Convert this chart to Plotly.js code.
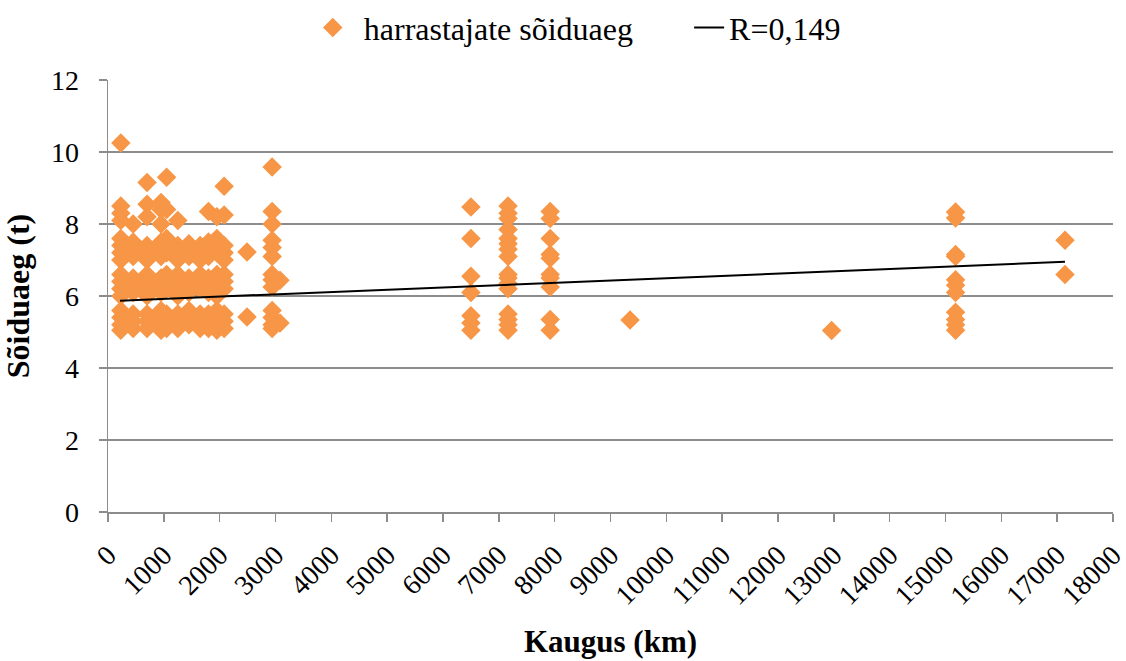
<!DOCTYPE html>
<html>
<head>
<meta charset="utf-8">
<script src="https://cdn.plot.ly/plotly-3.0.1.min.js"></script>
<style>html,body{margin:0;padding:0;background:#fff;}#chart{width:1126px;height:661px;}</style>
</head>
<body>
<div id="chart"></div>
<script>
// Distance columns (km) and the travel times (h) observed at each
var distanceKm = [230, 450, 700, 950, 1050, 1250, 1450, 1650, 1800, 1950, 2080, 2490, 2940, 3080, 6500, 7165, 7920, 9350, 12960, 15180, 17140];
var timeH = [
  [10.25, 8.5, 8.3, 8.1, 7.6, 7.4, 7.2, 7.0, 6.6, 6.4, 6.2, 6.0, 5.6, 5.4, 5.2, 5.05],
  [8.0, 7.5, 7.3, 7.1, 6.5, 6.3, 6.1, 5.5, 5.3, 5.1],
  [9.15, 8.55, 8.2, 7.4, 7.2, 7.0, 6.6, 6.4, 6.2, 6.0, 5.5, 5.3, 5.1],
  [8.6, 8.4, 8.0, 7.5, 7.3, 7.1, 6.5, 6.3, 6.1, 5.6, 5.4, 5.2, 5.05],
  [9.3, 8.4, 7.6, 7.4, 7.2, 6.6, 6.4, 6.2, 5.5, 5.3, 5.1],
  [8.1, 7.4, 7.2, 7.0, 6.6, 6.4, 6.2, 6.0, 5.5, 5.3, 5.1],
  [7.45, 7.3, 7.1, 6.5, 6.3, 6.1, 5.6, 5.4, 5.2],
  [7.4, 7.2, 7.0, 6.6, 6.4, 6.2, 5.5, 5.3, 5.1],
  [8.35, 7.5, 7.3, 7.1, 6.5, 6.3, 6.1, 5.5, 5.3, 5.1],
  [8.2, 7.6, 7.2, 6.6, 6.4, 6.2, 6.0, 5.6, 5.4, 5.2, 5.05],
  [9.05, 8.25, 7.4, 7.2, 7.0, 6.6, 6.4, 6.2, 5.5, 5.3, 5.1],
  [7.22, 5.42],
  [9.58, 8.35, 8.0, 7.55, 7.35, 7.1, 6.6, 6.45, 6.25, 5.6, 5.4, 5.2, 5.1],
  [6.44, 5.25],
  [8.47, 7.6, 6.55, 6.1, 5.45, 5.25, 5.05],
  [8.5, 8.3, 8.15, 7.85, 7.6, 7.45, 7.3, 7.1, 6.6, 6.5, 6.35, 6.2, 5.5, 5.35, 5.2, 5.05],
  [8.35, 8.15, 7.6, 7.15, 7.05, 6.6, 6.5, 6.25, 5.35, 5.05],
  [5.33],
  [5.04],
  [8.33, 8.17, 7.15, 7.1, 6.45, 6.3, 6.1, 5.55, 5.35, 5.2, 5.05],
  [7.55, 6.6]
];
// Trend line end points
var trendX = [215, 17140];
var trendY = [5.87, 6.95];
var xTicks = [0,1000,2000,3000,4000,5000,6000,7000,8000,9000,10000,11000,12000,13000,14000,15000,16000,17000,18000];
var yTicks = [0,2,4,6,8,10,12];

var px = [], py = [];
distanceKm.forEach(function(d, i){ timeH[i].forEach(function(t){ px.push(d); py.push(t); }); });

var font = "'Liberation Serif', 'Times New Roman', serif";
var data = [
  {x: px, y: py, type: 'scatter', mode: 'markers', name: 'harrastajate sõiduaeg', legend: 'legend',
   marker: {symbol: 'diamond', size: 15, color: '#F79646', line: {width: 0}}},
  {x: trendX, y: trendY, type: 'scatter', mode: 'lines', name: 'R=0,149', legend: 'legend2',
   line: {color: '#000000', width: 2}}
];
var layout = {
  width: 1126, height: 661,
  margin: {l: 108, r: 13, t: 80, b: 149},
  paper_bgcolor: '#fff', plot_bgcolor: '#fff',
  font: {family: font, size: 28, color: '#000'},
  showlegend: true,
  legend: {orientation: 'h', x: 0.268, xanchor: 'left', xref: 'container', y: 0.958, yanchor: 'middle',
           yref: 'container', itemwidth: 52, font: {family: font, size: 32}, bgcolor: 'rgba(0,0,0,0)'},
  legend2: {orientation: 'h', x: 0.612, xanchor: 'left', xref: 'container', y: 0.958, yanchor: 'middle',
           yref: 'container', itemwidth: 30, font: {family: font, size: 32}, bgcolor: 'rgba(0,0,0,0)'},
  xaxis: {range: [0, 18000], tickmode: 'array', tickvals: xTicks, ticktext: xTicks.map(String),
          tickangle: -45, ticks: 'outside', ticklen: 8, tickcolor: '#8c8c8c', tickwidth: 1.5,
          ticklabeloverflow: 'allow', ticklabelstandoff: 6,
          showline: true, linecolor: '#8c8c8c', linewidth: 1.5, showgrid: false, zeroline: false,
          tickfont: {family: font, size: 28},
          title: {text: '<b>Kaugus (km)</b>', font: {family: font, size: 31}, standoff: 20}},
  yaxis: {range: [0, 12], tickmode: 'array', tickvals: yTicks, ticks: 'outside', ticklen: 8,
          ticklabelstandoff: 14,
          tickcolor: '#8c8c8c', tickwidth: 1.5, showline: true, linecolor: '#8c8c8c', linewidth: 1.5,
          showgrid: true, gridcolor: '#8c8c8c', gridwidth: 1.5, zeroline: false,
          tickfont: {family: font, size: 28},
          title: {text: '<b>Sõiduaeg (t)</b>', font: {family: font, size: 32}, standoff: 12}}
};
Plotly.newPlot('chart', data, layout, {displayModeBar: false, staticPlot: true});
</script>
</body>
</html>
